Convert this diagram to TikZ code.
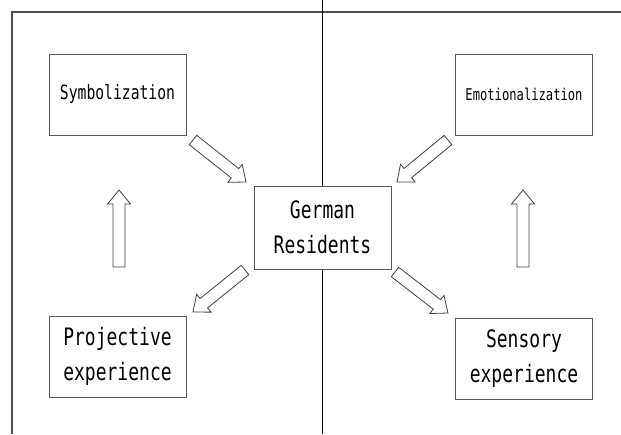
\documentclass[tikz,border=0pt]{standalone}
\usepackage{fontspec}
\newfontfamily\gothicfont[FakeStretch=0.75]{DejaVu Sans Mono}
\usetikzlibrary{calc}

% hollow block arrow from #1 (tail) to #2 (tip)
\newcommand{\blockarrow}[2]{%
  \coordinate (ba-base) at ($(#2)!14pt!(#1)$);
  \draw[arrowline] ($(#1)!6pt!90:(#2)$) -- ($(ba-base)!6pt!-90:(#1)$)
    -- ($(ba-base)!11.5pt!-90:(#1)$) -- (#2)
    -- ($(ba-base)!11.5pt!90:(#1)$) -- ($(ba-base)!6pt!90:(#1)$)
    -- ($(#1)!6pt!-90:(#2)$) -- cycle;}

\tikzset{
  box/.style={draw=black!65, line width=0.8pt, minimum width=137pt,
    minimum height=81pt, align=center, inner sep=0pt,
    font=\gothicfont\fontsize{24}{35}\selectfont},
  arrowline/.style={draw=black!75, line width=0.8pt, fill=white},
  frameline/.style={draw=black!70, line width=1.4pt},
}

\begin{document}
\begin{tikzpicture}[x=1pt,y=-1pt]

        \useasboundingbox (0,0) rectangle (621,434);

        % Frame and divider
        \draw[frameline] (12,434) -- (12,12) -- (621,12);
        \draw[line width=1pt] (322,0) -- (322,434);

        % Boxes
        \node[box, font=\gothicfont\fontsize{19.6}{24}\selectfont] (symb) at (117.5,94.5) {Symbolization};
        \node[box, font=\gothicfont\fontsize{16.2}{20}\selectfont] (emot) at (524,94.5) {Emotionalization};
        \node[box, fill=white, minimum height=83pt] (germ) at (322.5,227.5) {German\\Residents};
        \node[box] (proj) at (117.5,356.5) {Projective\\experience};
        \node[box] (sens) at (524,358.5) {Sensory\\experience};

        % Arrow ends
        \coordinate (tl0) at (193,140); \coordinate (tl1) at (246,182);
        \coordinate (tr0) at (448,140); \coordinate (tr1) at (397,182);
        \coordinate (bl0) at (245,270); \coordinate (bl1) at (193,312);
        \coordinate (br0) at (395,272); \coordinate (br1) at (448,313);
        \coordinate (lu0) at (119,267); \coordinate (lu1) at (119,190);
        \coordinate (ru0) at (523,267); \coordinate (ru1) at (523,190);

        % Block arrows
        \blockarrow{tl0}{tl1}
        \blockarrow{tr0}{tr1}
        \blockarrow{bl0}{bl1}
        \blockarrow{br0}{br1}
        \blockarrow{lu0}{lu1}
        \blockarrow{ru0}{ru1}

\end{tikzpicture}
\end{document}
